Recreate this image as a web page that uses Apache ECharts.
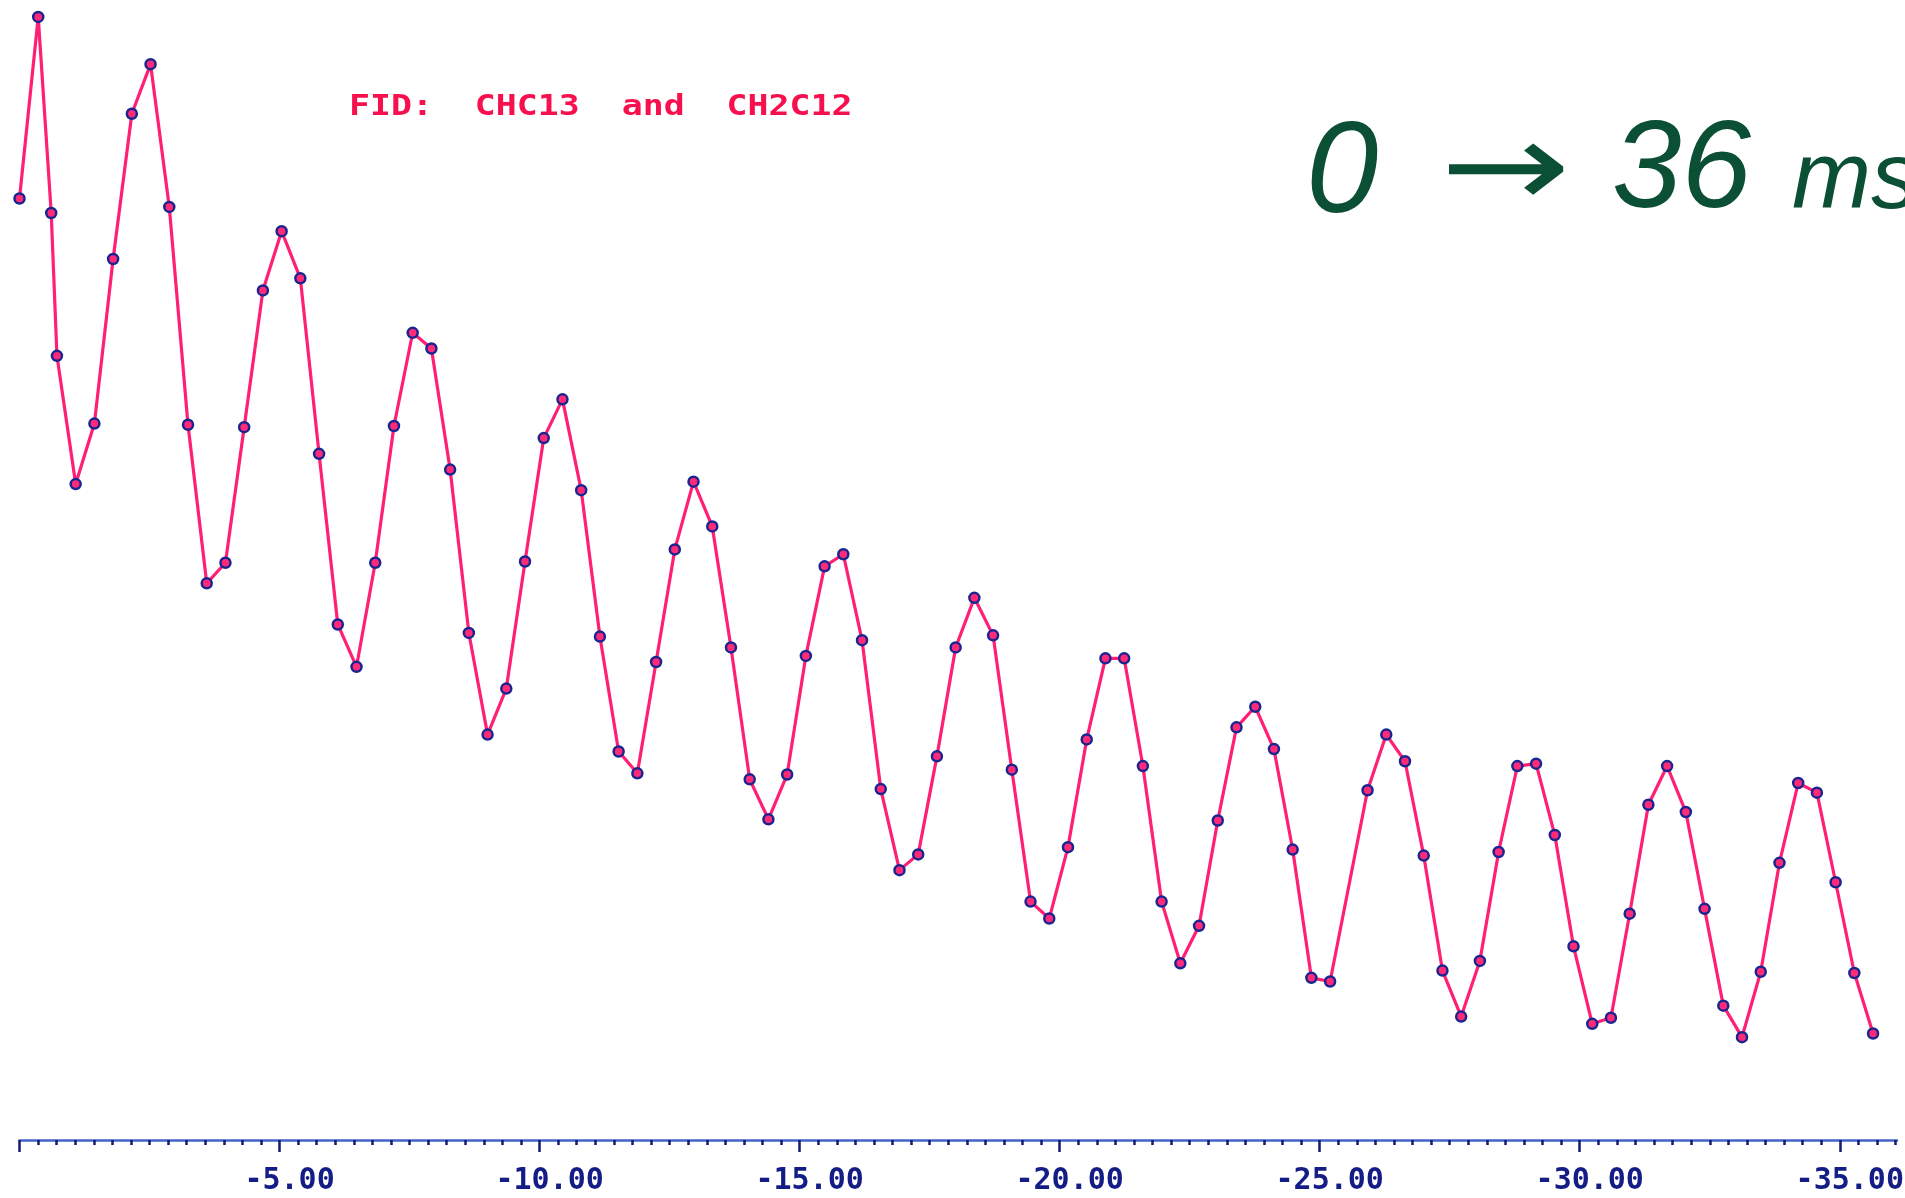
<!DOCTYPE html>
<html>
<head>
<meta charset="utf-8">
<script src="https://cdn.jsdelivr.net/npm/echarts@6/dist/echarts.min.js"></script>
<style>
html,body{margin:0;padding:0;background:#ffffff;}
#chart{width:1905px;height:1198px;}
</style>
</head>
<body>
<div id="chart"></div>
<script>
// Time (ms, plotted as negative values like the original) of every sample
const timeMs = [
  0, -0.36, -0.61, -0.72, -1.08, -1.44, -1.80, -2.16, -2.52, -2.88,
  -3.24, -3.60, -3.96, -4.32, -4.68, -5.04, -5.40, -5.76, -6.12, -6.48,
  -6.84, -7.20, -7.56, -7.92, -8.28, -8.64, -9.00, -9.36, -9.72, -10.08,
  -10.44, -10.80, -11.16, -11.52, -11.88, -12.24, -12.60, -12.96, -13.32, -13.68,
  -14.04, -14.40, -14.76, -15.12, -15.48, -15.84, -16.20, -16.56, -16.92, -17.28,
  -17.64, -18.00, -18.36, -18.72, -19.08, -19.44, -19.80, -20.16, -20.52, -20.88,
  -21.24, -21.60, -21.96, -22.32, -22.68, -23.04, -23.40, -23.76, -24.12, -24.48,
  -24.84, -25.20, -25.92, -26.28, -26.64, -27.00, -27.36, -27.72, -28.08, -28.44,
  -28.80, -29.16, -29.52, -29.88, -30.24, -30.60, -30.96, -31.32, -31.68, -32.04,
  -32.40, -32.76, -33.12, -33.48, -33.84, -34.20, -34.56, -34.92, -35.28, -35.64
];
// FID amplitude (arbitrary units)
const amplitude = [
  77.8, 92.8, 76.6, 64.8, 54.2, 59.2, 72.8, 84.8, 88.9, 77.1,
  59.1, 46.0, 47.7, 58.9, 70.2, 75.1, 71.2, 56.7, 42.6, 39.1,
  47.7, 59.0, 66.7, 65.4, 55.4, 41.9, 33.5, 37.3, 47.8, 58.0,
  61.2, 53.7, 41.6, 32.1, 30.3, 39.5, 48.8, 54.4, 50.7, 40.7,
  29.8, 26.5, 30.2, 40.0, 47.4, 48.4, 41.3, 29.0, 22.3, 23.6,
  31.7, 40.7, 44.8, 41.7, 30.6, 19.7, 18.3, 24.2, 33.1, 39.8,
  39.8, 30.9, 19.7, 14.6, 17.7, 26.4, 34.1, 35.8, 32.3, 24.0,
  13.4, 13.1, 28.9, 33.5, 31.3, 23.5, 14.0, 10.2, 14.8, 23.8,
  30.9, 31.1, 25.2, 16.0, 9.6, 10.1, 18.7, 27.7, 30.9, 27.1,
  19.1, 11.1, 8.5, 13.9, 22.9, 29.5, 28.7, 21.3, 13.8, 8.8
];
const majorTicks = [0, -5, -10, -15, -20, -25, -30, -35];
const tickLabels = [-5, -10, -15, -20, -25, -30, -35];
const titleText = 'FID:  CHC13  and  CH2C12';
const noteParts = ['0', '→', '36', 'ms'];

const seriesData = timeMs.map((t, i) => [t, amplitude[i]]);

const chart = echarts.init(document.getElementById('chart'), null, {renderer: 'canvas'});
chart.setOption({
  animation: false,
  backgroundColor: '#ffffff',
  grid: {left: 19.5, right: 8, top: 0, bottom: 58, containLabel: false, outerBoundsMode: 'none'},
  xAxis: {
    type: 'value',
    inverse: true,
    min: -36.1,
    max: 0,
    splitNumber: 7,
    axisLine: {show: true, onZero: false, lineStyle: {color: '#4262c8', width: 2.5}},
    axisTick: {show: true, customValues: majorTicks, length: 12, lineStyle: {color: '#101c70', width: 2.5}},
    minorTick: {show: true, splitNumber: 14, length: 5, lineStyle: {color: '#101c70', width: 2.5}},
    splitLine: {show: false},
    minorSplitLine: {show: false},
    axisLabel: {
      show: true,
      customValues: tickLabels,
      formatter: v => Number(v).toFixed(2),
      color: '#141c86',
      fontFamily: 'DejaVu Sans Mono',
      fontWeight: 'bold',
      fontSize: 30,
      margin: 26,
      padding: [0, 0, 0, 20]
    }
  },
  yAxis: {
    type: 'value',
    min: 0,
    max: 94.2,
    show: false
  },
  series: [{
    type: 'line',
    data: seriesData,
    clip: false,
    symbol: 'circle',
    symbolSize: 10,
    showAllSymbol: true,
    lineStyle: {color: '#ff1f74', width: 3.2},
    itemStyle: {color: '#ff2a78', borderColor: '#1b2590', borderWidth: 2.5}
  }],
  graphic: [
    {type: 'text', x: 349, y: 108, scaleX: 1.34, scaleY: 1.1,
     style: {text: titleText, fill: '#f8104e', font: 'bold 26px "DejaVu Sans Mono"', textVerticalAlign: 'middle', textAlign: 'left'}},
    {type: 'text', x: 1306, y: 176,
     style: {text: noteParts[0], fill: '#0b4f35', font: 'italic 130px "Liberation Sans"', textVerticalAlign: 'middle', textAlign: 'left'}},
    {type: 'text', x: 1440, y: 176, scaleX: 1.3,
     style: {text: noteParts[1], fill: '#0b4f35', font: '120px "DejaVu Sans"', textVerticalAlign: 'middle', textAlign: 'left'}},
    {type: 'text', x: 1612, y: 172,
     style: {text: noteParts[2], fill: '#0b4f35', font: 'italic 125px "Liberation Sans"', textVerticalAlign: 'middle', textAlign: 'left'}},
    {type: 'text', x: 1792, y: 182,
     style: {text: noteParts[3], fill: '#0b4f35', font: 'italic 95px "Liberation Sans"', textVerticalAlign: 'middle', textAlign: 'left'}}
  ]
});
</script>
</body>
</html>
